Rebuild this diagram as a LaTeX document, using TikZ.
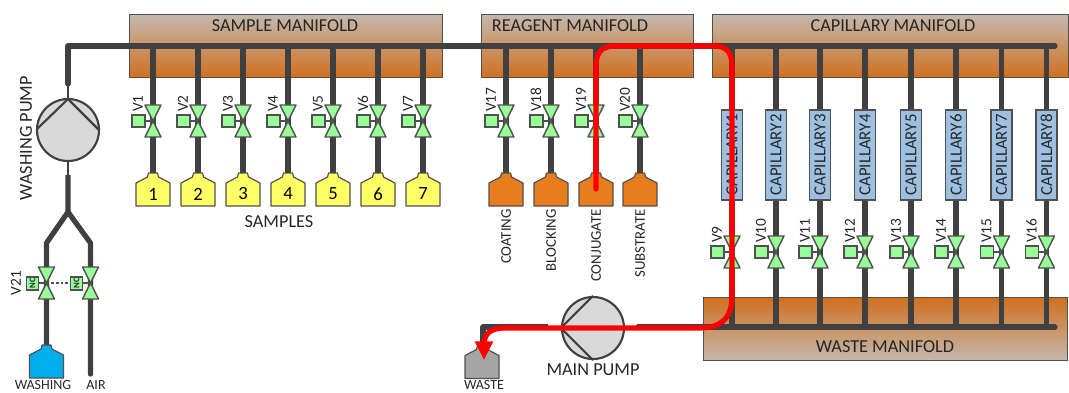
\documentclass[tikz,border=0pt]{standalone}
\usepackage{fontspec}
\setmainfont{Carlito}
\usetikzlibrary{arrows.meta}
\definecolor{pipec}{HTML}{404040}
\definecolor{edgec}{HTML}{505050}
\definecolor{valvec}{HTML}{99FF99}
\definecolor{mantan}{HTML}{C4B8AE}
\definecolor{manor}{HTML}{D0701F}
\definecolor{capc}{HTML}{9DC0E0}
\definecolor{pumpc}{HTML}{D9D9D9}
\definecolor{oran}{HTML}{E87D1E}
\definecolor{washc}{HTML}{00AEEF}
\definecolor{yel}{HTML}{FFFF66}
\definecolor{wgrey}{HTML}{A6A6A6}
\tikzset{
  pipe/.style={draw=pipec,line width=3.9pt},
  thinpipe/.style={draw=pipec,line width=1.5pt},
  redflow/.style={draw=red,line width=3.9pt,line cap=round,line join=round},
  manif/.style={draw=edgec,line width=0.8pt,top color=mantan,bottom color=manor,anchor=north west,inner sep=0pt},
  manifw/.style={draw=edgec,line width=0.8pt,top color=manor,bottom color=mantan,anchor=north west,inner sep=0pt},
  valvebody/.style={draw=edgec,fill=valvec,line width=1.1pt,line join=round},
  act/.style={draw=edgec,fill=valvec,line width=1.1pt},
  stem/.style={draw=edgec,line width=0.8pt},
  bottlebody/.style={draw=edgec,line width=0.9pt,line join=round},
  pumpbody/.style={draw=pipec,fill=pumpc,line width=1.6pt},
  capbox/.style={draw=edgec,fill=capc,line width=0.8pt,minimum width=15.75pt,minimum height=67.5pt,inner sep=0pt},
  txt/.style={font=\fontsize{13.7}{13.7}\selectfont,inner sep=0pt,text=black!85},
  stxt/.style={font=\fontsize{10.5}{10.5}\selectfont,inner sep=0pt,text=black!85},
  btxt/.style={font=\fontsize{11.1}{11.1}\selectfont,inner sep=0pt,rotate=90,text=black!85},
  vtxt/.style={font=\fontsize{11.5}{11.5}\selectfont,inner sep=0pt,rotate=90,text=black!85},
  nctxt/.style={font=\fontsize{6.5}{6.5}\selectfont\bfseries,inner sep=0pt,rotate=90,text=black!85},
}
\newcommand{\myvalve}[3]{%
  \coordinate (v#3) at (#1,#2);
  \draw[stem] (#1-8,#2) -- (#1,#2);
  \draw[valvebody] (#1-8,#2-16) -- (#1+8,#2-16) -- (#1,#2) -- cycle;
  \draw[valvebody] (#1-8,#2+16) -- (#1+8,#2+16) -- (#1,#2) -- cycle;
  \draw[act] (#1-21,#2-6) rectangle (#1-8,#2+6);
  \node[vtxt,anchor=west] (lv#3) at (#1-15,#2-9) {V#3};
}
\newcommand{\mybottle}[3]{% x, top y, colour
  \path[bottlebody,fill=#3] (#1-4.5,#2) -- (#1+4.5,#2) -- (#1+5.5,#2+4) -- (#1+17,#2+10) -- (#1+17,#2+33) -- (#1-17,#2+33) -- (#1-17,#2+10) -- (#1-5.5,#2+4) -- cycle;
}
\begin{document}
\begin{tikzpicture}[x=0.75pt,y=-0.75pt]
\useasboundingbox (0,0) rectangle (1069,392);
% manifolds
\node[manif,minimum width=234.75pt,minimum height=47.25pt] (samplem) at (129,14) {};
\node[manif,minimum width=159pt,minimum height=47.25pt] (reagentm) at (481,14) {};
\node[manif,minimum width=267pt,minimum height=47.25pt] (capm) at (712,14) {};
\node[manifw,minimum width=273pt,minimum height=47.25pt] (wastem) at (703,297) {};
\node[txt] (tsample) at (285,26) {SAMPLE MANIFOLD};
\node[txt] (treagent) at (570,26) {REAGENT MANIFOLD};
\node[txt] (tcap) at (893,26) {CAPILLARY MANIFOLD};
\node[txt] (twaste) at (885,347) {WASTE MANIFOLD};
% main lines
\coordinate (wpin) at (68,84);
\coordinate (corner) at (68,46);
\coordinate (mainend) at (1055,46);
\coordinate (wasteend) at (1055,327);
\coordinate (wastestart) at (638,327);
\coordinate (wp1) at (68,99);
\draw[pipe,line join=round,line cap=round] (wpin) -- (corner) -- (mainend);
\draw[pipe,line cap=round] (wastestart) -- (wasteend);
% sample branches
\foreach \x/\n/\l in {153/1/1,198/2/2,243/3/3,288/4/4,333/5/5,378/6/6,423/7/7}{
  \draw[pipe] (\x,46) -- (\x,176);
  \mybottle{\x}{173}{yel}
  \node[font=\fontsize{14}{14}\selectfont,inner sep=0pt] (bs\n) at (\x,194) {\l};
  \myvalve{\x}{121}{\n}
}
\node[txt] (tsamples) at (279,222) {SAMPLES};
% reagent branches
\foreach \x/\n/\l in {506/17/COATING,551/18/BLOCKING,596/19/CONJUGATE,640/20/SUBSTRATE}{
  \draw[pipe] (\x,46) -- (\x,176);
  \mybottle{\x}{173}{oran}
  \myvalve{\x}{121}{\n}
  \node[btxt,anchor=east] (tb\n) at (\x,209) {\l};
}
% capillary branches
\foreach \x/\n/\c in {732/9/1,776/10/2,820/11/3,865/12/4,911/13/5,956/14/6,1001.5/15/7,1046.5/16/8}{
  \draw[pipe] (\x,46) -- (\x,327);
  \node[capbox] (cap\c) at (\x,155) {};
  \node[font=\fontsize{12.6}{12.6}\selectfont,inner sep=0pt,rotate=90,text=black!85] (tcap\c) at (\x,155) {CAPILLARY\c};
  \myvalve{\x}{252}{\n}
}
% washing pump
\node[circle,pumpbody,minimum size=46.5pt,inner sep=0pt] (wp) at (68,130) {};
\coordinate (wpl) at (37,129);
\coordinate (wpr) at (99,130);
\draw[pipec,line width=1.6pt,line join=round] (wpl) -- (wp1) -- (wpr);
\draw[thinpipe] (wpin) -- (wp.north);
\coordinate (wpo) at (68,175);
\coordinate (wpy) at (68,212);
\coordinate (wl) at (46.5,243);
\coordinate (wr) at (90.5,243);
\coordinate (wb) at (46.5,350);
\coordinate (airend) at (90.5,374);
\draw[thinpipe] (wp.south) -- (wpo);
\draw[pipe,line join=round] (wpo) -- (wpy) -- (wl) -- (wb);
\draw[pipe,line join=round] (wpy) -- (wr) -- (airend);
\fill[pipec] (airend) circle (2pt);
\node[txt,rotate=90] (twp) at (26,138) {WASHING PUMP};
% washing valves
\coordinate (va) at (46.5,283);
\coordinate (vb) at (90.5,283);
\foreach \x/\n in {46.5/a,90.5/b}{
  \draw[valvebody] (\x-8,267) -- (\x+8,267) -- (\x,283) -- cycle;
  \draw[valvebody] (\x-8,299) -- (\x+8,299) -- (\x,283) -- cycle;
  \draw[act] (\x-20,277) rectangle (\x-8,290);
  \draw[stem] (\x-8,283) -- (\x,283);
  \node[nctxt] (nc\n) at (\x-14,283.5) {NC};
}
\draw[edgec,line width=0.8pt,dash pattern=on 2pt off 1.5pt] (va) -- (70,283);
\node[vtxt] (lv21) at (16,283) {V21};
\mybottle{46.5}{345}{washc}
\node[stxt] (twash) at (43,385.5) {WASHING};
\node[stxt] (tair) at (96,385.5) {AIR};
% main pump
\coordinate (mpin) at (548,327);
\coordinate (wcorner) at (483,327);
\coordinate (wbot) at (483,350);
\draw[pipe,line join=round] (mpin) -- (wcorner) -- (wbot);
\node[circle,pumpbody,minimum size=46.5pt,inner sep=0pt] (mp) at (593,328) {};
\draw[pipec,line width=1.6pt,line join=round] (mp.north) -- (mp.west) -- (mp.south);
\draw[thinpipe] (mpin) -- (mp.west);
\draw[thinpipe] (mp.east) -- (wastestart);
\node[txt] (tmp) at (593,370) {MAIN PUMP};
\mybottle{482}{345.5}{wgrey}
\node[stxt] (twst) at (484,385.5) {WASTE};
% red flow
\coordinate (rs) at (596,189);
\coordinate (re) at (484,360);
\draw[redflow,-{Triangle[length=14pt,width=13pt]}] (rs) -- (596,66) .. controls (596,52) and (602,46) .. (616,46) -- (714,46) .. controls (726,46) and (732,52) .. (732,66) -- (732,295) .. controls (732,318) and (722,328) .. (698,328) -- (505,328) .. controls (490,328) and (484,334) .. (484,345) -- (re);
\end{tikzpicture}
\end{document}
